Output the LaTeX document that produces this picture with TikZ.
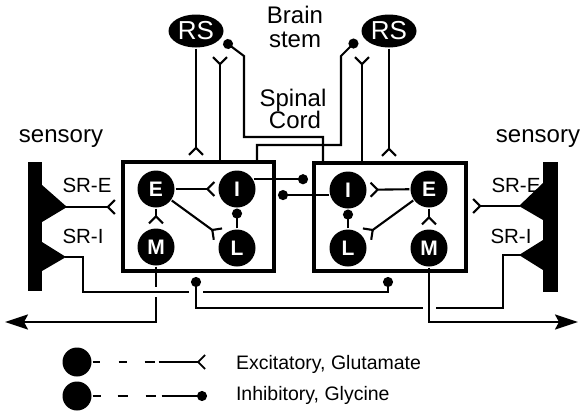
\documentclass[tikz,border=0pt]{standalone}
\usepackage{fontspec}
\setmainfont{Liberation Sans}
\usetikzlibrary{arrows.meta,calc,shapes.geometric}
\begin{document}
\begin{tikzpicture}[x=1pt,y=-1pt, line width=2.1pt,
  neuron/.style={circle, fill=black, minimum size=37pt, inner sep=0pt, text=white,
    font=\fontsize{21}{21}\selectfont\bfseries},
  rs/.style={ellipse, fill=black, minimum width=55pt, minimum height=33pt, inner sep=0pt,
    text=white, font=\fontsize{26}{26}\selectfont},
  cbox/.style={draw, line width=4pt, inner sep=0pt},
  exc/.style={-{Straight Barb[reversed,length=7pt,width=14pt]}},
  inh/.style={-{Circle[length=10pt]}},
  lab/.style={inner sep=0pt, font=\fontsize{24}{24}\selectfont},
  srlab/.style={inner sep=0pt, font=\fontsize{20.5}{20.5}\selectfont},
  leg/.style={inner sep=0pt, font=\fontsize{19.5}{19.5}\selectfont},
  halo/.style={draw=white},
  outarrow/.style={-{Stealth[length=23pt,width=15pt,inset=4pt]}}]
\fill[white] (0,0) rectangle (586,413);
\useasboundingbox (0,0) rectangle (586,413);

% boxes and neurons
\node[cbox, minimum width=151pt, minimum height=109pt] (lbox) at (198.5,216.5) {};
\node[cbox, minimum width=152pt, minimum height=108pt] (rbox) at (390,217) {};
\node[neuron] (lE) at (156,189) {E};
\node[neuron] (lI) at (237,189) {I};
\node[neuron] (lM) at (156,247) {M};
\node[neuron] (lL) at (237,248) {L};
\node[neuron] (rI) at (348,190) {I};
\node[neuron] (rE) at (429,189) {E};
\node[neuron] (rL) at (348,248) {L};
\node[neuron] (rM) at (429,248) {M};
\node[rs] (lRS) at (196,31) {RS};
\node[rs] (rRS) at (389,31) {RS};

% sensory bars
\fill (28,162) rectangle (42,291);
\fill (42,185) -- (67,207) -- (42,222) -- cycle;
\fill (42,242) -- (66,257) -- (42,271) -- cycle;
\fill (543,162) rectangle (558,292);
\fill (543,183) -- (519,206) -- (543,220) -- cycle;
\fill (543,240) -- (519,255) -- (543,270) -- cycle;
\coordinate (lSRE) at (66,207);
\coordinate (lSRI) at (65,257);
\coordinate (rSRE) at (520,206);
\coordinate (rSRI) at (520,255);

% texts
\node[lab, anchor=base] (brain) at (295,23) {Brain};
\node[lab, anchor=base] (stem) at (295,47) {stem};
\node[lab, anchor=base] (spinal) at (293,106) {Spinal};
\node[lab, anchor=base] (cord) at (295,128) {Cord};
\node[lab, anchor=base] (sensL) at (61,142) {sensory};
\node[lab, anchor=base] (sensR) at (538,142) {sensory};
\node[srlab, anchor=base] (sreL) at (87,192) {SR-E};
\node[srlab, anchor=base] (sriL) at (83,243) {SR-I};
\node[srlab, anchor=base] (sreR) at (516,192) {SR-E};
\node[srlab, anchor=base] (sriR) at (511,243) {SR-I};

% inside boxes
\draw[exc, shorten >=2pt] (lE) -- (lI);
\draw[exc, shorten >=3pt] (lE) -- (lL);
\draw[exc, shorten >=3pt] (lE) -- (lM);
\draw[inh] (lL) -- (lI);
\draw[exc, shorten >=2pt] (rE) -- (rI);
\draw[exc, shorten >=3pt] (rE) -- (rL);
\draw[exc, shorten >=3pt] (rE) -- (rM);
\draw[inh] (rL) -- (rI);

% reciprocal I connections
\coordinate (dR) at (308,0);
\coordinate (dL) at (278,0);
\draw[inh] (lI.30) -- (lI.30 -| dR);
\draw[inh] (rI.195) -- (rI.195 -| dL);

% top connections
\coordinate (a1) at (220,56);
\coordinate (a2) at (362,56);
\draw[exc] (lbox.north -| a1) -- (a1);
\draw[exc] (rbox.north -| a2) -- (a2);
\draw[exc, shorten >=4pt] (lRS) -- (lRS |- lbox.north);
\draw[exc, shorten >=4pt] (rRS) -- (rRS |- rbox.north);
\coordinate (p1) at (323,137);
\coordinate (p2) at (244,56);
\coordinate (dotA) at (224,41);
\draw[inh] (rbox.north -| p1) -- (p1) -- (p1 -| p2) -- (p2) -- (dotA);
\coordinate (q1) at (257,145);
\coordinate (q2) at (341,56);
\coordinate (dotB) at (357,40);
\draw[inh] (lbox.north -| q1) -- (q1) -- (q1 -| q2) -- (q2) -- (dotB);

% sensory excitatory inputs
\coordinate (fL) at (116,207);
\coordinate (fR) at (472,206);
\draw[exc] (lSRE) -- (fL);
\draw[exc] (rSRE) -- (fR);

% bottom connections
\coordinate (arrL) at (5,322);
\coordinate (arrR) at (578,322);
\draw[outarrow] (lM) -- (lM |- arrL) -- (arrL);
\coordinate (c1) at (83,292);
\coordinate (c2) at (388,292);
\draw[halo, line width=10pt] ($(lM |- c1)+(-6,0)$) -- ($(lM |- c1)+(6,0)$);
\draw[inh, shorten >=4pt] (lSRI) -- (lSRI -| c1) -- (c1) -- (c2) -- (c2 |- rbox.south);
\coordinate (c3) at (503,308);
\coordinate (c4) at (196,308);
\draw[halo, line width=14pt] ($(c4 |- c1)+(0,-5)$) -- ($(c4 |- c1)+(0,5)$);
\draw[inh, shorten >=4pt] (rSRI) -- (rSRI -| c3) -- (c3) -- (c4) -- (c4 |- lbox.south);
\draw[halo, line width=13pt] ($(rM |- c3)+(0,-5)$) -- ($(rM |- c3)+(0,5)$);
\draw[outarrow] (rM) -- (rM |- arrR) -- (arrR);

% legend
\node[circle, fill=black, minimum size=29pt, inner sep=0pt] (lg1) at (77,362) {};
\node[circle, fill=black, minimum size=29pt, inner sep=0pt] (lg2) at (77,396) {};
\coordinate (lf1) at (206,362);
\coordinate (lf2) at (207,396);
\draw[exc, line width=1.8pt, dash pattern=on 7pt off 19pt on 8pt off 18pt on 10pt off 4pt on 120pt] (lg1) -- (lf1);
\draw[inh, line width=1.8pt, dash pattern=on 8pt off 17pt on 10pt off 18pt on 10pt off 6pt on 120pt] (lg2) -- (lf2);
\node[leg, anchor=base west] (t1) at (235,369) {Excitatory, Glutamate};
\node[leg, anchor=base west] (t2) at (235,400) {Inhibitory, Glycine};
\end{tikzpicture}
\end{document}
